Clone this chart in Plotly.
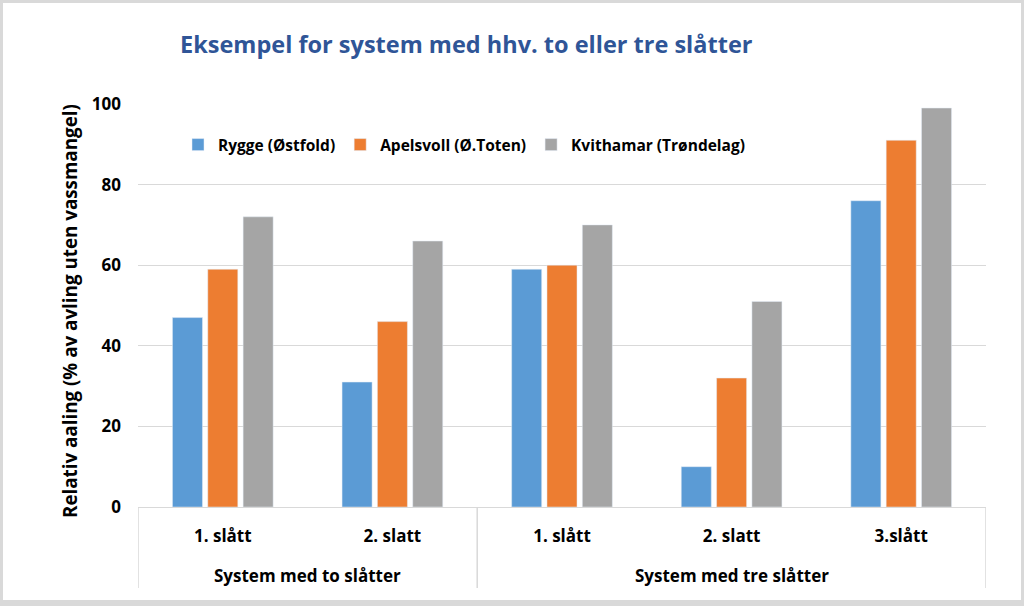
import plotly.graph_objects as go

# data
cuts = ["1. slått", "2. slatt", "1. slått", "2. slatt", "3.slått"]
groups = ["System med to slåtter", "System med tre slåtter"]
group_members = [[0, 1], [2, 3, 4]]

rygge = [47, 31, 59, 10, 76]
apelsvoll = [59, 46, 60, 32, 91]
kvithamar = [72, 66, 70, 51, 99]

series = [
    ("Rygge (Østfold)", rygge, "#5B9BD5"),
    ("Apelsvoll (Ø.Toten)", apelsvoll, "#ED7D31"),
    ("Kvithamar (Trøndelag)", kvithamar, "#A5A5A5"),
]

FONT = "Open Sans, sans-serif"
pos = list(range(len(cuts)))

fig = go.Figure()
for name, vals, col in series:
    fig.add_trace(go.Bar(x=pos, y=vals, name=name, marker_color=col))

# plot area in pixels: x 138..986, y 104..507
L, R, T, B = 138, 38, 104, 99
W, H = 1024 - L - R, 606 - T - B

def py(p):  # pixel row -> paper y
    return (507 - p) / H

def px(p):  # pixel column -> paper x
    return (p - L) / W

fig.update_layout(
    width=1024, height=606,
    margin=dict(l=L, r=R, t=T, b=B),
    paper_bgcolor="#D9D9D9", plot_bgcolor="white",
    font=dict(family=FONT, size=15, color="black", weight="bold"),
    barmode="group", bargap=0.375, bargroupgap=0.15,
    title=dict(text="Eksempel for system med hhv. to eller tre slåtter",
               x=180 / 1024, xanchor="left", y=1 - 45 / 606, yanchor="middle",
               font=dict(family=FONT, size=23.5, color="#2F5597", weight="bold")),
    legend=dict(orientation="h", x=px(178), xanchor="left",
                y=py(145), yanchor="middle",
                font=dict(family=FONT, size=15.5, weight="bold"),
                bgcolor="rgba(0,0,0,0)", itemwidth=30),
)

fig.update_yaxes(range=[0, 100], dtick=20, gridcolor="#D9D9D9", gridwidth=1,
                 zeroline=False, showline=False, ticks="", ticklabelstandoff=16,
                 tickfont=dict(family=FONT, size=17, weight="bold"))
fig.update_xaxes(range=[-0.5, len(cuts) - 0.5], tickvals=pos, ticktext=cuts,
                 showgrid=False, zeroline=False,
                 showline=True, linecolor="#D9D9D9", linewidth=1, ticks="",
                 ticklabelstandoff=14,
                 tickfont=dict(family=FONT, size=17, weight="bold"))

# second level of category labels and dividers
for g, members in zip(groups, group_members):
    fig.add_annotation(text=g, xref="x", yref="paper",
                       x=(members[0] + members[-1]) / 2, y=py(575),
                       xanchor="center", yanchor="middle", showarrow=False,
                       font=dict(family=FONT, size=17, weight="bold"))
edges = [-0.5] + [m[-1] + 0.5 for m in group_members]
for e in edges:
    fig.add_shape(type="line", xref="x", yref="paper", x0=e, x1=e,
                  y0=0, y1=py(588), line=dict(color="#D9D9D9", width=1.5))

fig.add_annotation(text="Relativ aaling (% av avling uten vassmangel)",
                   textangle=-90, xref="paper", yref="paper",
                   x=px(70), y=py(311), xanchor="center", yanchor="middle",
                   showarrow=False, font=dict(family=FONT, size=18.8, weight="bold"))

# white chart area inside the grey frame
fig.add_shape(type="rect", xref="paper", yref="paper", layer="below",
              x0=px(3), x1=px(1021), y0=py(600), y1=py(3),
              fillcolor="white", line=dict(width=0))

fig.write_html("out.html", config={"displayModeBar": False},
               post_script="document.body.style.margin='0';")
